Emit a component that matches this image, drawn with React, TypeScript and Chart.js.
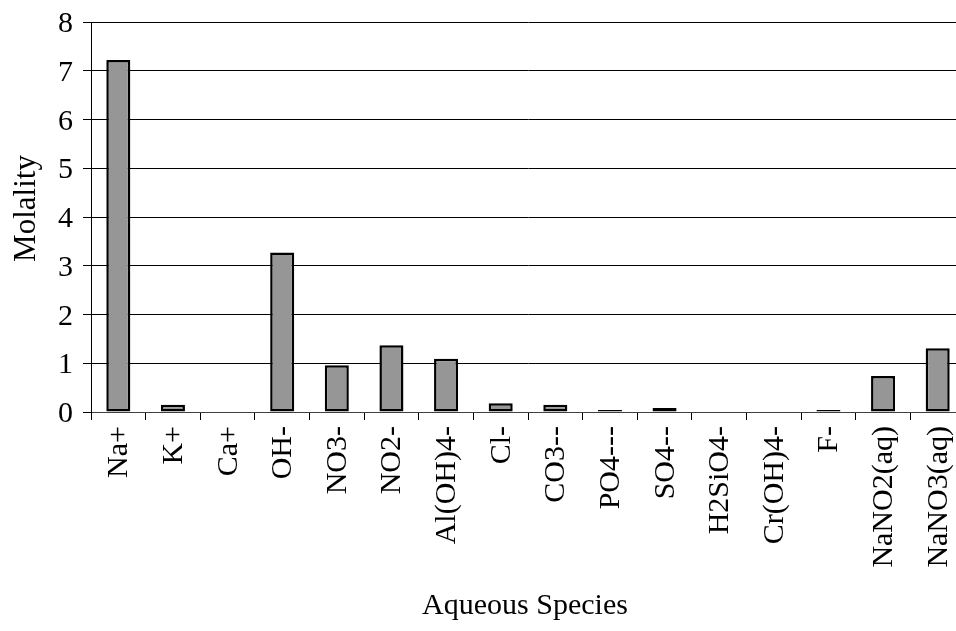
import React, { useEffect, useRef } from "react";
import { Chart, registerables } from "chart.js";

Chart.register(...registerables);

const categories = [
  "Na+", "K+", "Ca+", "OH-", "NO3-", "NO2-", "Al(OH)4-", "Cl-", "CO3--",
  "PO4---", "SO4--", "H2SiO4-", "Cr(OH)4-", "F-", "NaNO2(aq)", "NaNO3(aq)",
];
const molality = [7.22, 0.15, 0, 3.27, 0.96, 1.37, 1.09, 0.18, 0.15, 0.04, 0.08, 0, 0, 0.04, 0.74, 1.31];
const yTicks = [0, 1, 2, 3, 4, 5, 6, 7, 8];
const xTitle = "Aqueous Species";
const yTitle = "Molality";

const FAMILY = "'Liberation Serif', 'Times New Roman', serif";

const labelPlugin = {
  id: "axisLabels",
  afterDraw(chart: any) {
    const ctx = chart.ctx as CanvasRenderingContext2D;
    const xs = chart.scales.x;
    const ys = chart.scales.y;
    const area = chart.chartArea;
    ctx.save();
    ctx.fillStyle = "#000";
    ctx.font = `30px ${FAMILY}`;
    ctx.textAlign = "right";
    ctx.textBaseline = "alphabetic";
    yTicks.forEach((v) => {
      const py = ys.getPixelForValue(v);
      ctx.fillText(String(v), area.left - 18, py + 10);
    });
    ctx.textAlign = "center";
    ctx.fillText(xTitle, (area.left + area.right) / 2 - 3, 614);
    ctx.font = `30px ${FAMILY}`;
    ctx.textAlign = "right";
    categories.forEach((c, i) => {
      const px = xs.getPixelForValue(i);
      ctx.save();
      ctx.translate(px + 9, area.bottom + 14);
      ctx.rotate(-Math.PI / 2);
      ctx.fillText(c, 0, 0);
      ctx.restore();
    });
    ctx.font = `31px ${FAMILY}`;
    ctx.textAlign = "center";
    ctx.save();
    ctx.translate(35, 208.5);
    ctx.rotate(-Math.PI / 2);
    ctx.fillText(yTitle, 0, 0);
    ctx.restore();
    ctx.restore();
  },
};

export default function App() {
  const ref = useRef<HTMLCanvasElement>(null);
  useEffect(() => {
    document.body.style.margin = "0";
    const chart = new Chart(ref.current!, {
      type: "bar",
      data: {
        labels: categories,
        datasets: [
          {
            data: molality,
            backgroundColor: "#969696",
            borderColor: "#000000",
            borderWidth: 2.5,
            borderSkipped: false,
            barPercentage: 0.44,
            categoryPercentage: 1,
          },
        ],
      },
      options: {
        animation: false,
        responsive: false,
        maintainAspectRatio: false,
        layout: { padding: { top: 22, right: 10, left: 0, bottom: 0 } },
        plugins: { legend: { display: false }, tooltip: { enabled: false } },
        scales: {
          x: {
            grid: { drawOnChartArea: false, offset: true, tickLength: 8, color: "#000", lineWidth: 1 },
            border: { color: "#404040", width: 1 },
            ticks: { display: false, autoSkip: false },
            afterFit: (s: any) => { s.height = 219; },
          },
          y: {
            min: 0,
            max: 8,
            afterBuildTicks: (s: any) => { s.ticks = yTicks.map((v) => ({ value: v })); },
            grid: { color: "#000", lineWidth: 1, tickLength: 8 },
            border: { color: "#000", width: 1 },
            ticks: { display: false },
            afterFit: (s: any) => { s.width = 91; },
          },
        },
      },
      plugins: [labelPlugin],
    });
    return () => chart.destroy();
  }, []);
  return (
    <div style={{ width: 956, height: 631, overflow: "hidden" }}>
      <canvas ref={ref} width={975} height={631} style={{ display: "block" }} />
    </div>
  );
}
